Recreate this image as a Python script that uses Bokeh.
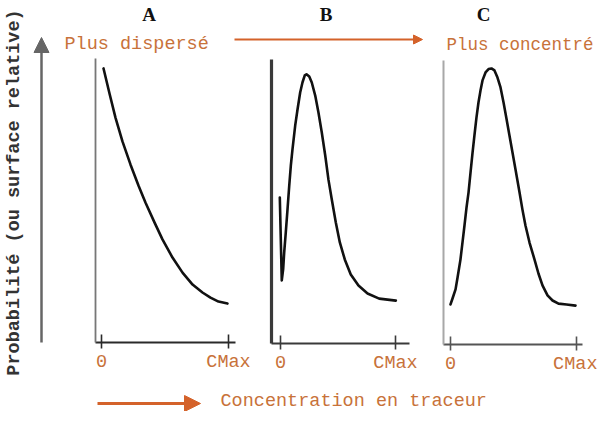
from math import pi
from bokeh.plotting import figure
from bokeh.models import Range1d, LinearAxis, FixedTicker, Label, Arrow, NormalHead
from bokeh.embed import file_html
from bokeh.resources import INLINE

# ---------------- data ----------------
panel_names = ["A", "B", "C"]
tick_values = [0, 100]
tick_labels = ["0", "CMax"]

a_x = [1.6, 6.3, 11.0, 16.5, 22.8, 29.1, 34.6, 41.7, 48.0, 55.9, 63.8, 71.7, 79.5, 85.8, 92.1, 99.2]
a_y = [96.5, 87.7, 79.2, 70.8, 62.7, 55.3, 49.3, 42.3, 36.3, 29.9, 24.6, 20.4, 17.6, 15.8, 14.4, 13.7]

b_x = [-0.6, 1.1, 2.3, 3.2, 4.6, 6.1, 7.6, 9.0, 10.4, 12.8, 14.8, 17.1, 19.1, 21.1, 22.6,
       25.0, 27.2, 30.2, 33.0, 35.9, 38.9, 41.7, 44.6, 48.1, 51.6, 55.9, 61.1, 67.8, 75.7, 85.8, 100.3]
b_y = [51.4, 22.2, 26.1, 32.0, 39.1, 47.2, 55.6, 62.7, 68.3, 76.8, 82.4, 88.4, 91.9, 94.4, 94.8,
       94.0, 91.9, 87.3, 81.3, 74.3, 66.2, 57.7, 50.7, 42.6, 35.6, 29.6, 24.3, 20.4, 17.6, 15.8, 15.1]

c_x = [0.0, 1.6, 4.0, 5.6, 7.9, 9.5, 11.1, 12.7, 14.3, 15.9, 17.5, 19.0, 20.6, 22.2, 23.8, 25.4,
       27.8, 30.2, 32.5, 34.9, 37.3, 39.7, 42.1, 44.4, 46.8, 49.2, 51.6, 54.8, 57.1, 59.5, 62.7,
       66.7, 69.8, 73.0, 77.0, 81.0, 85.7, 92.1, 99.2]
c_y = [14.1, 16.2, 19.4, 23.6, 29.9, 35.9, 41.9, 48.2, 53.5, 60.6, 67.6, 73.6, 79.9, 85.2, 89.4, 93.0,
       95.8, 97.0, 97.2, 96.5, 94.0, 90.5, 85.2, 79.6, 73.6, 67.6, 61.6, 53.5, 47.5, 41.9, 35.9,
       29.9, 25.0, 20.8, 17.3, 15.5, 14.4, 14.1, 13.7]

text_left = "Plus dispersé"
text_right = "Plus concentré"
x_title = "Concentration en traceur"
y_title = "Probabilité (ou surface relative)"

curves = {"A": (a_x, a_y), "B": (b_x, b_y), "C": (c_x, c_y)}

# ---------------- layout / style ----------------
W, H = 597, 411
ORANGE_TXT = "#c8723a"
ORANGE_ARR = "#d4622a"
MONO = "Liberation Mono"
FS = "18.5px"

# pixel geometry of each panel (canvas coordinates, y downward)
geom = {
    "A": dict(x0=101, x1=228, left=95, right=235, yb=342, yt=58,
              ycol="#777777", yw=1.8, xcol="#2a2a2a", tx=148.5),
    "B": dict(x0=280, x1=395, left=271, right=409, yb=343, yt=59,
              ycol="#3a3a3a", yw=3.2, xcol="#3a3a3a", tx=325.5),
    "C": dict(x0=450, x1=576, left=443, right=582, yb=344, yt=60,
              ycol="#a8a8a8", yw=2.0, xcol="#555555", tx=483),
}

p = figure(width=W, height=H, x_range=Range1d(0, W), y_range=Range1d(H, 0),
           x_axis_type=None, y_axis_type=None, toolbar_location=None,
           output_backend="svg", min_border=0)
p.outline_line_color = None
p.background_fill_color = "white"
p.border_fill_color = "white"

xr, yr = {}, {}
for n in panel_names:
    g = geom[n]
    kx = (g["x1"] - g["x0"]) / 100.0
    ky = (g["yb"] - g["yt"]) / 100.0
    xr["x" + n] = Range1d(-g["x0"] / kx, (W - g["x0"]) / kx)
    yr["y" + n] = Range1d((g["yb"] - H) / ky, g["yb"] / ky)
p.extra_x_ranges = xr
p.extra_y_ranges = yr

for n in panel_names:
    g = geom[n]
    kx = (g["x1"] - g["x0"]) / 100.0
    left_v = (g["left"] - g["x0"]) / kx
    right_v = (g["right"] - g["x0"]) / kx

    xa = LinearAxis(x_range_name="x" + n, y_range_name="y" + n, fixed_location=0,
                    bounds=(left_v, right_v),
                    ticker=FixedTicker(ticks=tick_values),
                    major_label_overrides=dict(zip(tick_values, tick_labels)))
    xa.axis_line_color = g["xcol"]
    xa.axis_line_width = 2
    xa.major_tick_line_color = g["xcol"]
    xa.major_tick_line_width = 1.6
    xa.major_tick_in = 8
    xa.major_tick_out = 6
    xa.minor_tick_line_color = None
    xa.major_label_text_font = MONO
    xa.major_label_text_font_size = FS
    xa.major_label_text_color = ORANGE_TXT
    xa.major_label_standoff = 3
    p.add_layout(xa, "below")

    ya = LinearAxis(x_range_name="x" + n, y_range_name="y" + n, fixed_location=left_v,
                    bounds=(0, 100), ticker=FixedTicker(ticks=[]))
    ya.axis_line_color = g["ycol"]
    ya.axis_line_width = g["yw"]
    ya.major_tick_line_color = None
    ya.minor_tick_line_color = None
    ya.major_label_text_font_size = "0px"
    p.add_layout(ya, "left")

    cx, cy = curves[n]
    p.line(cx, cy, x_range_name="x" + n, y_range_name="y" + n,
           line_color="#111111", line_width=2.6, line_join="round", line_cap="round")

    p.add_layout(Label(x=g["tx"], y=14, text=n, text_align="center", text_baseline="middle",
                       text_font="Liberation Serif", text_font_style="bold",
                       text_font_size="19px", text_color="#111111"))

# top texts and arrow
p.add_layout(Label(x=64, y=44, text=text_left, text_font=MONO, text_font_size=FS,
                   text_color=ORANGE_TXT, text_align="left", text_baseline="alphabetic"))
p.add_layout(Label(x=446, y=44, text=text_right, text_font=MONO, text_font_size="17.5px",
                   text_color=ORANGE_TXT, text_align="left", text_baseline="alphabetic"))
p.add_layout(Arrow(x_start=234, y_start=39, x_end=422, y_end=39, line_color=ORANGE_ARR,
                   line_width=2,
                   end=NormalHead(size=9, fill_color=ORANGE_ARR, line_color=ORANGE_ARR)))

# bottom title and arrow
p.add_layout(Label(x=220, y=401, text=x_title, text_font=MONO, text_font_size=FS,
                   text_color=ORANGE_TXT, text_align="left", text_baseline="alphabetic"))
p.add_layout(Arrow(x_start=97, y_start=403, x_end=200, y_end=403, line_color=ORANGE_ARR,
                   line_width=3.2,
                   end=NormalHead(size=16, fill_color=ORANGE_ARR, line_color=ORANGE_ARR)))

# vertical title and arrow
p.add_layout(Label(x=14, y=192, text=y_title, angle=pi / 2, text_font=MONO,
                   text_font_size=FS, text_font_style="bold", text_color="#333333",
                   text_align="center", text_baseline="alphabetic"))
p.add_layout(Arrow(x_start=41, y_start=342, x_end=41, y_end=37, line_color="#666666",
                   line_width=2.5,
                   end=NormalHead(size=15, fill_color="#666666", line_color="#666666")))

open("out.html", "w").write(file_html(p, INLINE))
